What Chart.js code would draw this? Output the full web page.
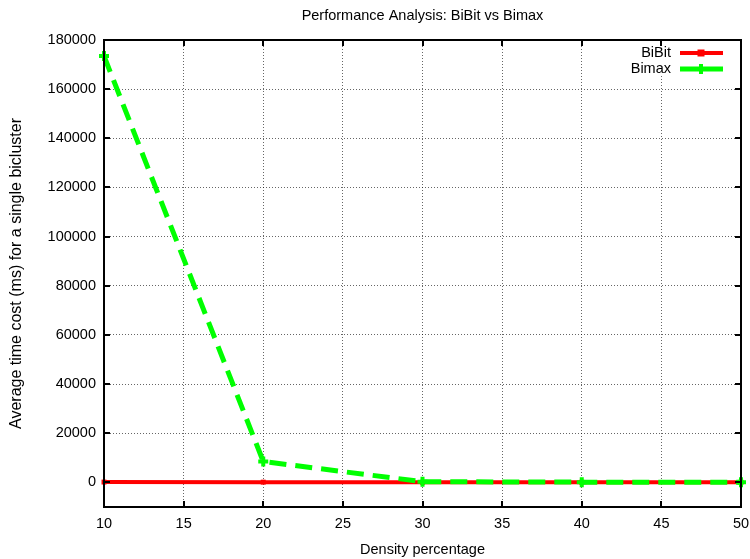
<!DOCTYPE html>
<html><head><meta charset="utf-8">
<script src="https://cdn.jsdelivr.net/npm/chart.js@4/dist/chart.umd.min.js"></script>
<style>html,body{margin:0;padding:0;background:#fff;}</style>
</head><body>
<canvas id="c" width="750" height="559"></canvas>
<script>
const chartTitle = 'Performance Analysis: BiBit vs Bimax';
const xTitle = 'Density percentage';
const yTitle = 'Average time cost (ms) for a single bicluster';
const seriesNames = ['BiBit', 'Bimax'];
const densities = [10, 20, 30, 40, 50];
const bibitValues = [150, 120, 90, 70, 60];
const bimaxValues = [173500, 8500, 300, 120, 80];
const xTicks = [10, 15, 20, 25, 30, 35, 40, 45, 50];
const yTicks = [0, 20000, 40000, 60000, 80000, 100000, 120000, 140000, 160000, 180000];
const xRange = [10, 50];
const yRange = [-10000, 180000];

const FONT = "'Liberation Sans', Arial, sans-serif";
const FS = 14.5;

const toPoints = vals => densities.map((d, i) => ({x: d, y: vals[i]}));

const framePlugin = {
  id: 'frame',
  beforeDatasetsDraw(chart) {
    const {ctx, chartArea: a} = chart;
    ctx.save();
    ctx.fillStyle = '#fff';
    ctx.fillRect(a.right - 112, a.top + 2, 110, 34);
    ctx.restore();
  },
  afterDatasetsDraw(chart) {
    const {ctx, chartArea: a, scales: {x, y}} = chart;
    ctx.save();
    ctx.strokeStyle = '#000';
    ctx.lineWidth = 2;
    ctx.beginPath();
    x.ticks.forEach(t => {
      const px = Math.round(x.getPixelForValue(t.value));
      ctx.moveTo(px, a.bottom); ctx.lineTo(px, a.bottom - 6);
      ctx.moveTo(px, a.top); ctx.lineTo(px, a.top + 6);
    });
    y.ticks.forEach(t => {
      const py = Math.round(y.getPixelForValue(t.value));
      ctx.moveTo(a.left, py); ctx.lineTo(a.left + 6, py);
      ctx.moveTo(a.right, py); ctx.lineTo(a.right - 6, py);
    });
    ctx.stroke();
    ctx.strokeRect(a.left, a.top, a.right - a.left, a.bottom - a.top);

    // legend
    ctx.font = FS + 'px ' + FONT;
    ctx.textAlign = 'right';
    ctx.textBaseline = 'middle';
    chart.data.datasets.forEach((ds, i) => {
      const ly = a.top + 13 + i * 16;
      ctx.fillStyle = '#000';
      ctx.fillText(ds.label, a.right - 70, ly);
      ctx.strokeStyle = ds.borderColor;
      ctx.lineWidth = ds.borderWidth;
      ctx.setLineDash([]);
      ctx.beginPath();
      ctx.moveTo(a.right - 61, ly); ctx.lineTo(a.right - 18, ly);
      ctx.stroke();
      const mx = a.right - 40;
      if (ds.pointStyle === 'rect') {
        ctx.fillStyle = ds.borderColor;
        ctx.fillRect(mx - 3.5, ly - 3.5, 7, 7);
      } else {
        ctx.lineWidth = 4;
        ctx.beginPath();
        ctx.moveTo(mx - 5, ly); ctx.lineTo(mx + 5, ly);
        ctx.moveTo(mx, ly - 5); ctx.lineTo(mx, ly + 5);
        ctx.stroke();
      }
    });
    ctx.restore();
  },
  afterDraw(chart) {
    const {ctx, chartArea: a} = chart;
    ctx.save();
    ctx.font = FS + 'px ' + FONT;
    ctx.fillStyle = '#000';
    ctx.textAlign = 'center';
    ctx.textBaseline = 'middle';
    ctx.fillText(chartTitle, (a.left + a.right) / 2, 16);
    ctx.restore();
  }
};

new Chart(document.getElementById('c'), {
  type: 'line',
  data: {
    datasets: [
      {
        label: seriesNames[0],
        data: toPoints(bibitValues),
        borderColor: '#ff0000',
        backgroundColor: '#ff0000',
        borderWidth: 4,
        pointStyle: 'rect',
        pointRadius: 3.5,
        pointBorderWidth: 0,
        pointBackgroundColor: '#ff0000',
        clip: false,
        order: 1
      },
      {
        label: seriesNames[1],
        data: toPoints(bimaxValues),
        borderColor: '#00ff00',
        backgroundColor: '#00ff00',
        borderWidth: 5,
        borderDash: [17, 9],
        pointStyle: 'cross',
        pointRadius: 5,
        pointBorderWidth: 4,
        pointBorderColor: '#00ff00',
        clip: false,
        order: 0
      }
    ]
  },
  options: {
    responsive: false,
    animation: false,
    devicePixelRatio: 1,
    layout: {padding: {top: 40, right: 6, left: 0, bottom: 0}},
    plugins: {legend: {display: false}, title: {display: false}, tooltip: {enabled: false}},
    scales: {
      x: {
        type: 'linear',
        min: xRange[0], max: xRange[1],
        afterBuildTicks: s => { s.ticks = xTicks.map(v => ({value: v})); },
        afterFit: s => { s.height = 52; s.paddingLeft = 0; s.paddingRight = 0; },
        grid: {color: 'rgba(0,0,0,0.6)', lineWidth: 1, drawTicks: false, borderDash: [1, 2]},
        border: {display: false, dash: [1, 2]},
        ticks: {color: '#000', font: {family: FONT, size: FS}, padding: 8, maxRotation: 0, autoSkip: false},
        title: {display: true, text: xTitle, color: '#000', font: {family: FONT, size: FS}, padding: {top: 3, bottom: 0}}
      },
      y: {
        type: 'linear',
        min: yRange[0], max: yRange[1],
        afterBuildTicks: s => { s.ticks = yTicks.map(v => ({value: v})); },
        afterFit: s => { s.width = 104; },
        grid: {color: 'rgba(0,0,0,0.6)', lineWidth: 1, drawTicks: false, borderDash: [1, 2]},
        border: {display: false, dash: [1, 2]},
        ticks: {color: '#000', font: {family: FONT, size: FS}, padding: 8, autoSkip: false, callback: v => String(v)},
        title: {display: true, text: yTitle, color: '#000', font: {family: FONT, size: 16}, padding: {top: 7, bottom: 0}}
      }
    }
  },
  plugins: [framePlugin]
});
</script>
</body></html>
